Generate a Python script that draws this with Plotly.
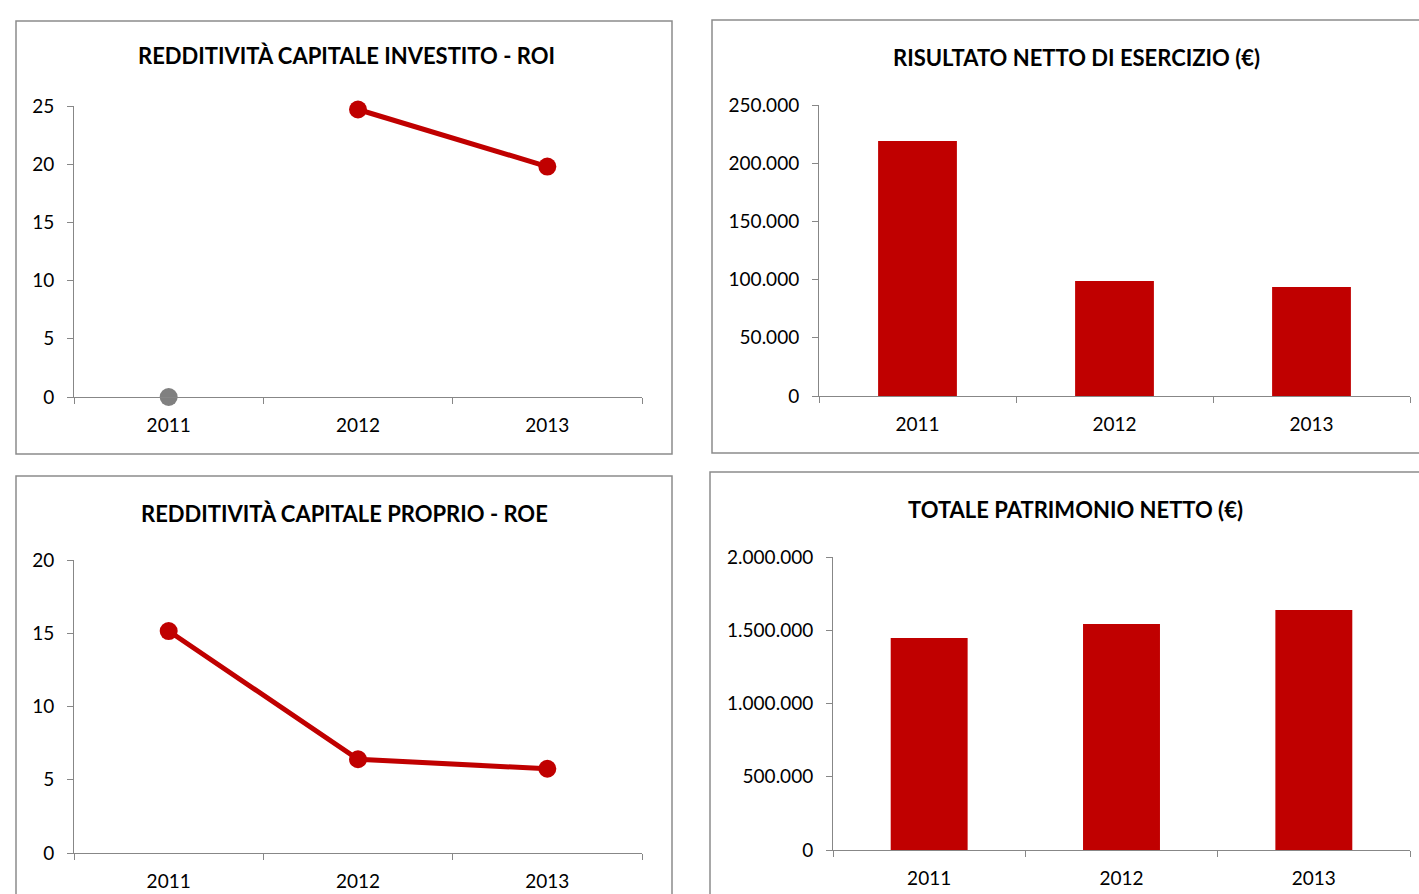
import plotly.graph_objects as go

W, H = 1419, 894

years = ["2011", "2012", "2013"]
roi = [0.0, 24.7, 19.8]
risultato_netto = [219000, 98800, 93600]
roe = [15.15, 6.4, 5.75]
patrimonio_netto = [1447000, 1543000, 1638000]

titles = [
    "REDDITIVITÀ CAPITALE INVESTITO - ROI",
    "RISULTATO NETTO DI ESERCIZIO (€)",
    "REDDITIVITÀ CAPITALE PROPRIO - ROE",
    "TOTALE PATRIMONIO NETTO (€)",
]

RED = "#C00000"
GRAY_AX = "#878787"
FONT = "Lato"

def px_x(v):
    return v / W

def px_y(v):
    return 1 - v / H

fig = go.Figure()

# ROI: 2011 drawn as gray marker, 2012-2013 red line
fig.add_trace(go.Scatter(x=years[:1], y=roi[:1], mode="markers",
                         marker=dict(color="#808080", size=18),
                         xaxis="x", yaxis="y", showlegend=False, cliponaxis=False))
fig.add_trace(go.Scatter(x=years[1:], y=roi[1:], mode="lines+markers",
                         line=dict(color=RED, width=5),
                         marker=dict(color=RED, size=18),
                         xaxis="x", yaxis="y", showlegend=False, cliponaxis=False))
fig.add_trace(go.Bar(x=years, y=risultato_netto, marker=dict(color=RED, line=dict(width=0)),
                     width=0.4, xaxis="x2", yaxis="y2", showlegend=False))
fig.add_trace(go.Scatter(x=years, y=roe, mode="lines+markers",
                         line=dict(color=RED, width=5),
                         marker=dict(color=RED, size=18),
                         xaxis="x3", yaxis="y3", showlegend=False, cliponaxis=False))
fig.add_trace(go.Bar(x=years, y=patrimonio_netto, marker=dict(color=RED, line=dict(width=0)),
                     width=0.4, xaxis="x4", yaxis="y4", showlegend=False))

# plot areas in pixels: (x0, x1, ytop, ybottom)
areas = [
    (74, 642, 106, 397),
    (819, 1410, 105, 396),
    (74, 642, 560, 853),
    (833, 1410, 557, 850),
]
yranges = [(0, 25, 5), (0, 250000, 50000), (0, 20, 5), (0, 2000000, 500000)]

layout = dict(
    width=W, height=H,
    autosize=False,
    margin=dict(l=0, r=0, t=0, b=0, pad=0, autoexpand=False),
    paper_bgcolor="white", plot_bgcolor="white",
    separators=",.",
    font=dict(family=FONT, size=18, color="#000000"),
    showlegend=False,
    hovermode=False,
)

for i, ((x0, x1, yt, yb), (r0, r1, dt)) in enumerate(zip(areas, yranges)):
    sfx = "" if i == 0 else str(i + 1)
    layout["xaxis" + sfx] = dict(
        domain=[px_x(x0), px_x(x1)], anchor="y" + sfx,
        type="category", range=[-0.5, 2.5], tickson="boundaries",
        showline=True, linecolor=GRAY_AX, linewidth=1,
        ticks="outside", ticklen=6, tickcolor=GRAY_AX,
        showgrid=False, zeroline=False, fixedrange=True, automargin=False,
        tickfont=dict(family=FONT, size=19, color="#000"),
        ticklabelstandoff=11,
    )
    layout["yaxis" + sfx] = dict(
        domain=[px_y(yb), px_y(yt)], anchor="x" + sfx,
        range=[r0, r1], dtick=dt, tick0=0, tickformat=",d",
        showline=True, linecolor=GRAY_AX, linewidth=1,
        ticks="outside", ticklen=6, tickcolor=GRAY_AX,
        showgrid=False, zeroline=False, fixedrange=True, automargin=False,
        tickfont=dict(family=FONT, size=19, color="#000"),
        ticklabelstandoff=9,
    )

fig.update_layout(**layout)

# panel borders
borders = [
    (16, 672, 21, 454),
    (712, 1430, 20, 453),
    (16, 672, 476, 905),
    (710, 1430, 472, 905),
]
for (bx0, bx1, by0, by1) in borders:
    fig.add_shape(type="rect", xref="paper", yref="paper",
                  x0=px_x(bx0), x1=px_x(bx1), y0=px_y(by1), y1=px_y(by0),
                  line=dict(color="#8C8C8C", width=1.5), fillcolor="rgba(0,0,0,0)",
                  layer="below")

title_pos = [(346, 55), (1076, 58), (344, 513), (1075, 510)]
for t, (tx, ty) in zip(titles, title_pos):
    fig.add_annotation(text="<b>" + t + "</b>", xref="paper", yref="paper",
                       x=px_x(tx), y=px_y(ty), xanchor="center", yanchor="middle",
                       showarrow=False, font=dict(family=FONT, size=22, color="#000"))

fig.write_html("out.html", config={"responsive": False, "displayModeBar": False},
               post_script="document.body.style.margin='0px';document.body.style.overflow='hidden';")
